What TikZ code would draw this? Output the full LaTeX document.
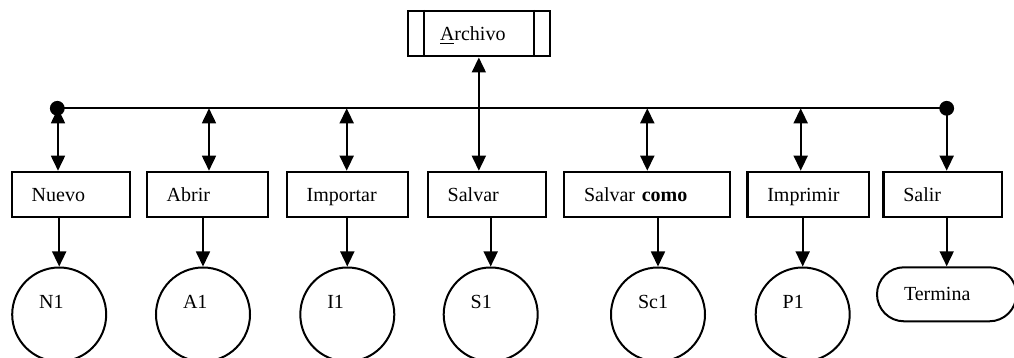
\documentclass[tikz,border=0pt]{standalone}
\usepackage{fontspec}
\setmainfont{Liberation Serif}
\usetikzlibrary{arrows.meta,shapes.misc}

\tikzset{
  >={Triangle[length=7.5pt,width=7pt]},
  conn/.style={line width=0.85pt},
  opbox/.style={draw,rectangle,line width=1.1pt,inner sep=0pt,minimum height=22.7pt,
    align=left,text height=6.6pt,text depth=0pt},
  proc/.style={draw,circle,line width=1pt,inner sep=0pt,minimum size=47pt,
    text width=20pt,align=left,text height=6.6pt,text depth=13.1pt},
  endbox/.style={draw,rounded rectangle,line width=1pt,inner sep=0pt,minimum height=27pt,
    minimum width=69.7pt,text width=42.7pt,align=left,text height=6.6pt,text depth=0pt}
}

\begin{document}
\begin{tikzpicture}[x=0.5pt,y=-0.5pt]
\useasboundingbox (0,0) rectangle (1014,358);
\clip (0,0) rectangle (1014,358);

\node[opbox,minimum width=71pt,text width=38.85pt] (archivo) at (478.85,33.7) {\underline{A}rchivo};
\draw[line width=1.1pt] ([xshift=8.6pt]archivo.north west) -- ([xshift=8.6pt]archivo.south west)
  ([xshift=-8.6pt]archivo.north east) -- ([xshift=-8.6pt]archivo.south east);

\foreach \nm/\txt/\cx/\w [evaluate=\w as \tw using \w-21, evaluate=\w as \mw using \w-1.1] in
  {nuevo/Nuevo/70.85/60.15, abrir/Abrir/207.35/61.65, importar/Importar/347.5/61.8,
   salvar/Salvar/486.7/60, como/Salvar \textbf{como}/647.15/84.15,
   imprimir/Imprimir/808/61.7, salir/Salir/942.65/60.35}
  \node[opbox,minimum width=\mw pt,text width=\tw pt] (\nm) at (\cx,194.5) {\txt};

\foreach \nm/\txt/\cx in {n1/N1/59.2, a1/A1/203, i1/I1/347.3, s1/S1/490.7, c1/Sc1/658, p1/P1/802.7}
  \node[proc] (\nm) at (\cx,314.5) {\txt};
\node[endbox] (termina) at (946.7,294.3) {Termina};

% bus
\coordinate (ldot) at (57.3,108.3);
\coordinate (rdot) at (946.7,108.3);
\draw[conn] (ldot) -- (rdot);

\foreach \nm/\bx in {nuevo/58, abrir/209, importar/346.7, como/647.3, imprimir/800.7}
{
  \coordinate (b\nm) at (\bx,108.3);
  \draw[conn,<->] (b\nm) -- (b\nm |- \nm.north);
}
\draw[conn,<->] (archivo.south) -- (archivo.south |- salvar.north);
\draw[conn,->] (rdot) -- (rdot |- salir.north);

\foreach \op/\pr in {nuevo/n1, abrir/a1, importar/i1, salvar/s1, como/c1, imprimir/p1, salir/termina}
  \draw[conn,->] (\pr.north |- \op.south) -- (\pr.north);

\fill (ldot) circle (3.7pt) (rdot) circle (3.7pt);
\end{tikzpicture}
\end{document}
